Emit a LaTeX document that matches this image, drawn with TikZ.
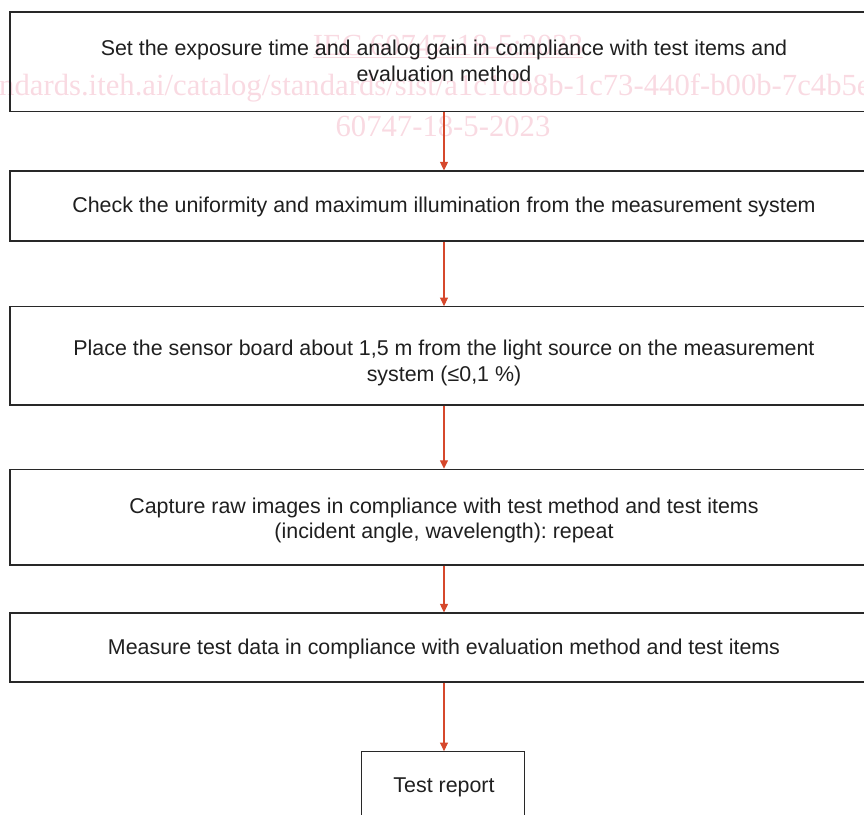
\documentclass[tikz,border=0pt]{standalone}
\usepackage{fontspec}
\setmainfont{Liberation Sans}
\newfontfamily\wmfont{Liberation Serif}
\usetikzlibrary{arrows.meta}
\frenchspacing
\definecolor{wmpink}{RGB}{249,218,226}
\definecolor{flowred}{RGB}{214,72,44}
\definecolor{edgegray}{RGB}{40,40,40}
\tikzset{
  stepbox/.style={draw=edgegray, line width=1.2pt, inner sep=0pt},
  steptext/.style={align=center, inner sep=0pt,
    font=\fontsize{21.4}{25.5}\selectfont, text=black!88},
  flow/.style={draw=flowred, line width=1.1pt, -{Triangle[length=8.5pt,width=8pt]}},
  wm/.style={text=wmpink, inner sep=0pt, font=\wmfont\fontsize{30.7}{31}\selectfont}
}
\begin{document}
\begin{tikzpicture}[x=1pt,y=-1pt]
\useasboundingbox (0,0) rectangle (864,814);
% watermark
\node[wm, anchor=base] (w1) at (448,55) {\underline{IEC 60747-18-5:2023}};
\node[wm, anchor=base west] (w2) at (-1,95) {ndards.iteh.ai/catalog/standards/sist/a1c1db8b-1c73-440f-b00b-7c4b5e};
\node[wm, anchor=base] (w3) at (443,136) {60747-18-5-2023};
% boxes
\node[stepbox, minimum width=868pt, minimum height=99.5pt] (b1) at (444,61.75) {};
\node[stepbox, minimum width=868pt, minimum height=70pt] (b2) at (444,206) {};
\node[stepbox, minimum width=868pt, minimum height=98.3pt] (b3) at (444,355.85) {};
\node[stepbox, minimum width=868pt, minimum height=95.7pt] (b4) at (444,517.2) {};
\node[stepbox, minimum width=868pt, minimum height=69pt] (b5) at (444,647.5) {};
\node[stepbox, minimum width=163pt, minimum height=67.6pt] (b6) at (443.3,785.5) {};
% texts
\node[steptext] (t1) at (444,61) {Set the exposure time and analog gain in compliance with test items and\\evaluation method};
\node[steptext] (t2) at (444,207) {Check the uniformity and maximum illumination from the measurement system};
\node[steptext] (t3) at (444,363) {Place the sensor board about 1,5 m from the light source on the measurement\\system (≤0,1 \%)};
\node[steptext] (t4) at (444,520.5) {Capture raw images in compliance with test method and test items\\(incident angle, wavelength): repeat};
\node[steptext] (t5) at (444,648.5) {Measure test data in compliance with evaluation method and test items};
\node[steptext] (t6) at (444,787.5) {Test report};
% connectors
\draw[flow] (b1.south) -- (b2.north);
\draw[flow] (b2.south) -- (b3.north);
\draw[flow] (b3.south) -- (b4.north);
\draw[flow] (b4.south) -- (b5.north);
\draw[flow] (b5.south) -- (b6.north -| b5.south);
\end{tikzpicture}
\end{document}
